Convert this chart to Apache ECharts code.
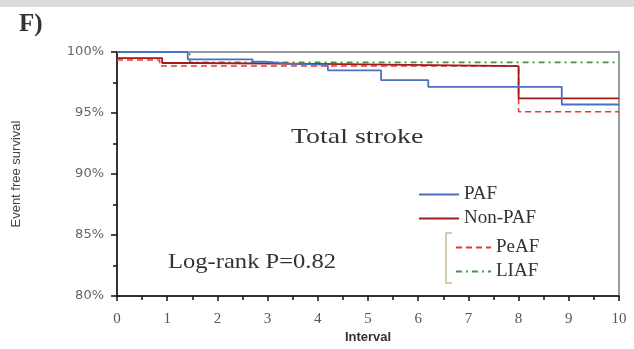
<!DOCTYPE html>
<html>
<head>
<meta charset="utf-8">
<script src="https://cdn.jsdelivr.net/npm/echarts@6/dist/echarts.min.js"></script>
<style>
  html, body { margin: 0; padding: 0; background: #fff; }
  #chart { width: 634px; height: 349px; }
</style>
</head>
<body>
<div id="chart"></div>
<script>
// Kaplan–Meier event-free survival for total stroke (interval in years, survival in %)
const pafTimes = [0, 1.41, 2.7, 2.95, 3.4, 4.2, 5.26, 6.2, 8.86, 10];
const pafSurv = [100, 99.4, 99.2, 99.05, 98.95, 98.5, 97.7, 97.15, 95.7, 95.7];

const nonPafTimes = [0, 0.9, 1.5, 4.5, 8, 10];
const nonPafSurv = [99.5, 99.1, 99.0, 98.85, 96.2, 96.2];

const peafTimes = [0, 0.85, 8, 10];
const peafSurv = [99.35, 98.85, 95.1, 95.1];

const liafTimes = [0, 1.45, 10];
const liafSurv = [100, 99.15, 99.15];

const xTicks = [0, 1, 2, 3, 4, 5, 6, 7, 8, 9, 10];
const yTicks = [80, 85, 90, 95, 100];

const pair = (t, s) => t.map((x, i) => [x, s[i]]);

const SERIF = '"Liberation Serif", "DejaVu Serif", serif';
const SANS = '"Liberation Sans", Arial, sans-serif';

const chart = echarts.init(document.getElementById('chart'), null, { renderer: 'canvas' });

function km(name, data, color, type, width) {
  return {
    name, type: 'line', step: 'end', data, symbol: 'none',
    lineStyle: { color, width, type },
    itemStyle: { color },
    z: 3
  };
}

const legendText = { fontFamily: SERIF, fontSize: 19, color: '#333' };

chart.setOption({
  animation: false,
  backgroundColor: '#fff',
  grid: {
    left: 117, right: 15, top: 52, bottom: 51,
    show: true, borderColor: '#9a9a9a', borderWidth: 2, backgroundColor: 'transparent'
  },
  xAxis: {
    type: 'value', min: 0, max: 10, interval: 1,
    name: 'Interval', nameLocation: 'middle', nameGap: 32,
    nameTextStyle: { fontFamily: SANS, fontSize: 13, fontWeight: 'bold', color: '#333' },
    axisLine: { show: true, onZero: false, lineStyle: { color: '#111', width: 1.5 } },
    axisTick: { show: true, inside: false, length: 5, lineStyle: { color: '#111', width: 1.5 } },
    minorTick: { show: true, splitNumber: 2, length: 4, lineStyle: { color: '#111', width: 1.5 } },
    splitLine: { show: false },
    axisLabel: {
      margin: 15, fontFamily: SERIF, fontSize: 15, color: '#555',
      formatter: v => xTicks.includes(v) ? String(v) : ''
    }
  },
  yAxis: {
    type: 'value', min: 80, max: 100, interval: 5,
    name: 'Event free survival', nameLocation: 'middle', nameGap: 94, nameRotate: 90,
    nameTextStyle: { fontFamily: SANS, fontSize: 13, color: '#444' },
    axisLine: { show: true, onZero: false, lineStyle: { color: '#111', width: 1.5 } },
    axisTick: { show: true, inside: false, length: 6, lineStyle: { color: '#111', width: 1.5 } },
    minorTick: { show: true, splitNumber: 2, length: 4, lineStyle: { color: '#111', width: 1.5 } },
    splitLine: { show: false },
    axisLabel: {
      margin: 13, fontFamily: '"DejaVu Sans", sans-serif', fontSize: 13, color: '#666',
      formatter: v => yTicks.includes(v) ? v + '%' : ''
    }
  },
  legend: [
    {
      data: ['PAF', 'Non-PAF'],
      orient: 'vertical', left: 413, top: 180, itemGap: 5,
      itemWidth: 40, itemHeight: 14,
      itemStyle: { opacity: 0 },
      textStyle: legendText
    },
    {
      data: ['PeAF', 'LIAF'],
      orient: 'vertical', left: 450, top: 233, itemGap: 5,
      itemWidth: 35, itemHeight: 14,
      itemStyle: { opacity: 0 },
      textStyle: legendText
    }
  ],
  graphic: [
    { type: 'rect', left: 0, top: 0, shape: { width: 634, height: 7 }, style: { fill: '#dcdcdc' } },
    { type: 'text', x: 19, y: 12, style: { text: 'F)', font: 'bold 25px ' + SERIF, fill: '#333' } },
    { type: 'text', x: 291, y: 126, scaleX: 1.27, style: { text: 'Total stroke', font: '22px ' + SERIF, fill: '#333' } },
    { type: 'text', x: 168, y: 252, scaleX: 1.17, style: { text: 'Log-rank P=0.82', font: '21px ' + SERIF, fill: '#333' } },
    {
      type: 'polyline',
      shape: { points: [[452, 233], [446, 233], [446, 283], [452, 283]] },
      style: { stroke: '#c9b99a', lineWidth: 1.5, fill: null }
    }
  ],
  series: [
    km('LIAF', pair(liafTimes, liafSurv), '#3e9a3e', [6, 4, 2, 4], 1.6),
    km('PeAF', pair(peafTimes, peafSurv), '#e23a3a', [6, 4], 1.6),
    km('Non-PAF', pair(nonPafTimes, nonPafSurv), '#a31a1a', 'solid', 1.8),
    km('PAF', pair(pafTimes, pafSurv), '#4a70c2', 'solid', 1.8)
  ]
});
</script>
</body>
</html>
